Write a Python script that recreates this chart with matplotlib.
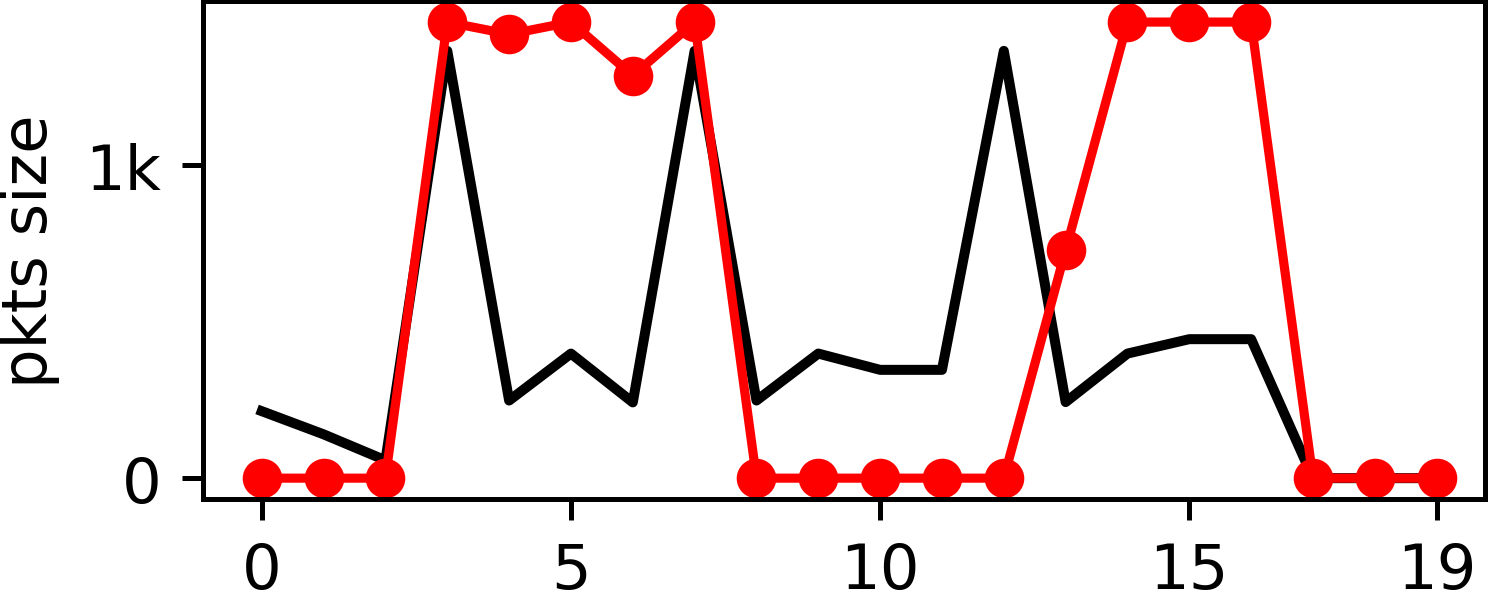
import matplotlib
matplotlib.use("Agg")
import matplotlib.pyplot as plt
from matplotlib.ticker import FuncFormatter

# packet index along the flow
pkt_idx = list(range(20))

# observed packet sizes (black) and reconstructed sizes (red)
observed = [214, 140, 57, 1365, 248, 398, 242, 1365, 248, 398, 346, 346,
            1365, 243, 398, 444, 444, 0, 0, 0]
generated = [0, 0, 0, 1457, 1418, 1457, 1286, 1457, 0, 0, 0, 0,
             0, 728, 1457, 1457, 1457, 0, 0, 0]

x_ticks = [0, 5, 10, 15, 19]
y_ticks = [0, 1000]

fig = plt.figure(figsize=(4.98, 2.013), dpi=300)
ax = fig.add_axes([0.1359, 0.172, 0.858, 0.8247])

ax.plot(pkt_idx, observed, color="black", lw=2.4)
ax.plot(pkt_idx, generated, color="#ff0000", lw=2.2, marker="o", ms=8.5)

ax.set_xlim(-0.95, 19.78)
ax.set_ylim(-67, 1524)
ax.set_xticks(x_ticks)
ax.set_yticks(y_ticks)
ax.yaxis.set_major_formatter(
    FuncFormatter(lambda v, _: "0" if v == 0 else f"{v/1000:g}k"))
ax.tick_params(labelsize=15, length=5, width=1.2, pad=5)
for s in ax.spines.values():
    s.set_linewidth(1.2)
ax.set_ylabel("pkts size", fontsize=15, labelpad=6)

fig.savefig("out.png", dpi=300)
